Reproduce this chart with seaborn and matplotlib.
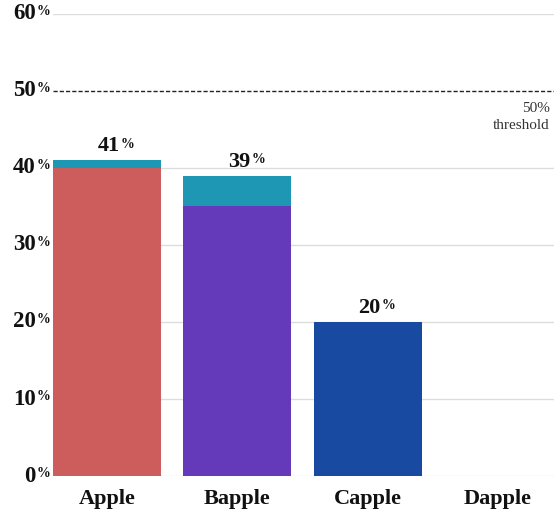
import matplotlib
matplotlib.use("Agg")
import matplotlib.pyplot as plt
import seaborn as sns
import pandas as pd

fruits = ["Apple", "Bapple", "Capple", "Dapple"]
base = [40, 35, 20, 0]
extra = [1, 4, 0, 0]
base_colors = ["#CD5C5C", "#6439BA", "#174AA0", "#888888"]
extra_color = "#1E97B5"
yticks = [0, 10, 20, 30, 40, 50, 60]
threshold = 50

sns.set_style("white")
plt.rcParams["font.family"] = ["Liberation Serif", "DejaVu Serif"]

df = pd.DataFrame({"fruit": fruits, "base": base, "extra": extra})
df["total"] = df["base"] + df["extra"]

fig = plt.figure(figsize=(5.54, 5.12), dpi=100)
ax = fig.add_axes([0.0957, 0.0703, 0.9043, 0.9024])

# totals first (teal caps), then the base segments on top
sns.barplot(data=df, x="fruit", y="total", color=extra_color, width=0.83,
            saturation=1, linewidth=0, ax=ax)
sns.barplot(data=df, x="fruit", y="base", hue="fruit", palette=base_colors,
            width=0.83, saturation=1, linewidth=0, legend=False, ax=ax)

ax.set_ylim(0, 60)
ax.set_xlim(-0.415, 3.43)
ax.set_yticks(yticks)
ax.set_yticklabels([])
ax.tick_params(axis="y", length=0)
ax.tick_params(axis="x", length=0, pad=9)
for lbl in ax.get_xticklabels():
    lbl.set_fontsize(16)
    lbl.set_fontweight("bold")
    lbl.set_color("#111111")
ax.set_xlabel("")
ax.set_ylabel("")
for s in ax.spines.values():
    s.set_visible(False)

for t in yticks:
    if t != threshold:
        ax.axhline(t, color="#dddddd", lw=1, zorder=0)
ax.axhline(threshold, color="#222222", lw=1, ls=(0, (3, 1.5)), zorder=3)

# y tick labels: big number + small percent sign
trans = ax.get_yaxis_transform()
for t in yticks:
    ax.annotate(str(t), xy=(0, t), xycoords=trans, xytext=(-12.5, 0),
                textcoords="offset points", ha="right", va="center",
                fontsize=16.5, fontweight="bold", color="#111111")
    ax.annotate("%", xy=(0, t), xycoords=trans, xytext=(-2, 1.5),
                textcoords="offset points", ha="right", va="center",
                fontsize=10, fontweight="bold", color="#111111")

# value labels above bars
for i, tot in enumerate(df["total"]):
    if tot <= 0:
        continue
    ax.annotate(str(tot), xy=(i, tot), xytext=(9, 3), textcoords="offset points",
                ha="right", va="bottom", fontsize=16, fontweight="bold",
                color="#111111")
    ax.annotate("%", xy=(i, tot), xytext=(10, 7), textcoords="offset points",
                ha="left", va="bottom", fontsize=10, fontweight="bold",
                color="#111111")

ax.annotate(f"{threshold}%\nthreshold", xy=(1, threshold), xycoords=ax.get_yaxis_transform(),
            xytext=(-3, -8), textcoords="offset points", ha="right", va="top",
            fontsize=11, color="#333333", linespacing=1.4)

fig.savefig("out.png", dpi=100)
